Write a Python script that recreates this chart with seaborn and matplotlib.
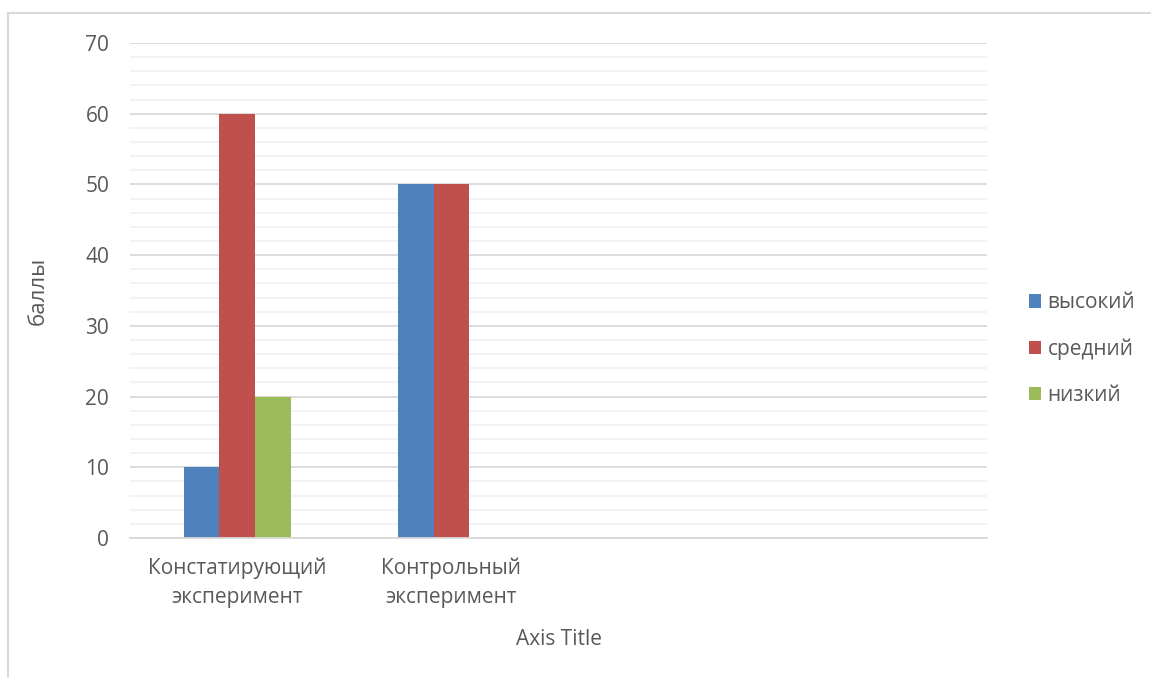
import matplotlib
matplotlib.use("Agg")
import matplotlib.pyplot as plt
from matplotlib.patches import Rectangle, Patch
import numpy as np
import pandas as pd
import seaborn as sns

# Chart data
categories = ["Констатирующий\nэксперимент", "Контрольный\nэксперимент"]
series_names = ["высокий", "средний", "низкий"]
high_vals = [10, 50]
mid_vals = [60, 50]
low_vals = [20, 0]
colors = ["#4F81BD", "#C0504D", "#9BBB59"]
y_ticks = [0, 10, 20, 30, 40, 50, 60, 70]

rows = []
for name, vals in zip(series_names, [high_vals, mid_vals, low_vals]):
    for cat, v in zip(categories, vals):
        rows.append({"category": cat, "series": name, "value": v})
df = pd.DataFrame(rows)

sns.set_theme(style="white")
plt.rcParams["font.family"] = ["Open Sans", "DejaVu Sans"]
text_color = "#595959"

fig = plt.figure(figsize=(11.51, 6.78), dpi=100)
W, H = 1151, 678
ax = fig.add_axes([130 / W, 1 - 538 / H, (987 - 130) / W, (538 - 43) / H])

sns.barplot(data=df, x="category", y="value", hue="series",
            order=categories, hue_order=series_names,
            palette=colors, width=0.5, linewidth=0, saturation=1,
            legend=False, ax=ax)

ax.set_xlim(-0.5, 3.5)
ax.set_ylim(0, 70)
ax.set_yticks(y_ticks)
ax.set_yticks(np.arange(0, 71, 2), minor=True)
ax.yaxis.grid(True, which="major", color="#D9D9D9", linewidth=1.3)
ax.yaxis.grid(True, which="minor", color="#F2F2F2", linewidth=1.3)
ax.set_axisbelow(True)
for s in ["top", "right", "left"]:
    ax.spines[s].set_visible(False)
ax.spines["bottom"].set_color("#D9D9D9")
ax.spines["bottom"].set_linewidth(1.3)

ax.tick_params(axis="y", which="both", length=0, pad=15, labelsize=15, labelcolor=text_color)
ax.tick_params(axis="x", length=0, pad=14, labelsize=15, labelcolor=text_color)
ax.set_xticks([0, 1])
ax.set_xticklabels(categories, linespacing=1.5)

ax.set_ylabel("баллы", fontsize=16, color=text_color, labelpad=26)
ax.set_xlabel("Axis Title", fontsize=15, color=text_color, labelpad=15)

handles = [Patch(facecolor=c, edgecolor="none") for c in colors]
fig.legend(handles, series_names, loc="center left",
           bbox_to_anchor=(1010 / W, 1 - 349 / H), frameon=False,
           fontsize=15, labelcolor=text_color, handlelength=0.6,
           handleheight=0.6, handletextpad=0.3, labelspacing=1.2)

# Chart frame
fig.patches.append(Rectangle((8 / W, -0.1), 1.2, 1 - 13 / H + 0.1,
                             transform=fig.transFigure, fill=False,
                             edgecolor="#D9D9D9", linewidth=1.5))

fig.savefig("out.png", dpi=100)
